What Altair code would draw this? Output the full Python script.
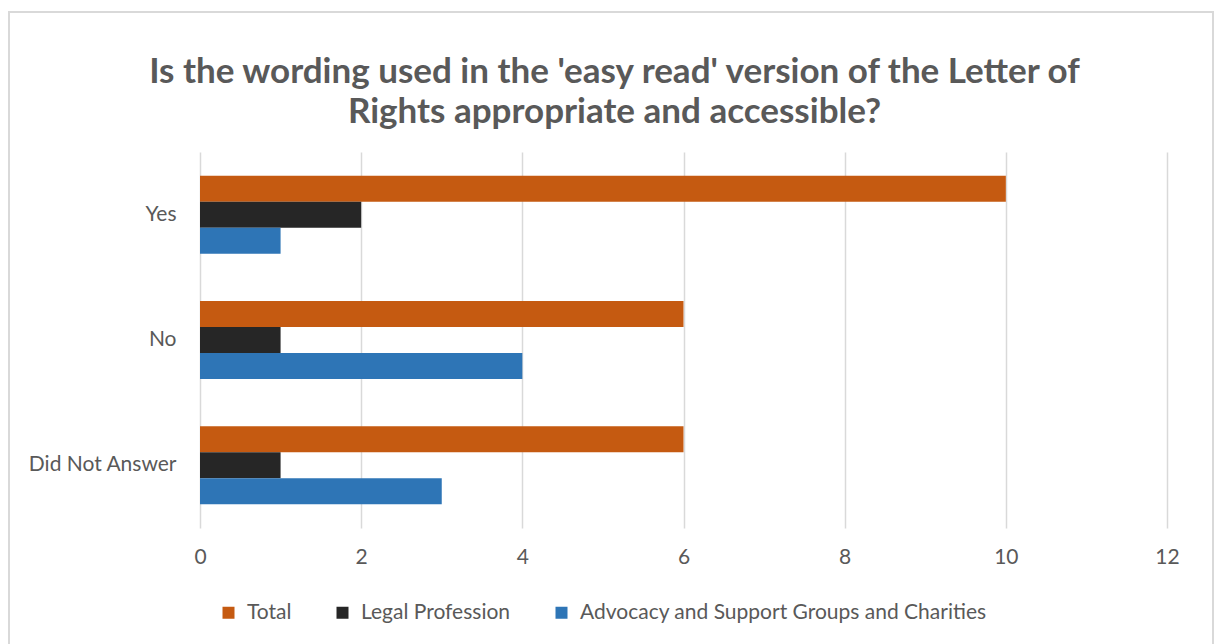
import altair as alt
import pandas as pd

categories = ["Yes", "No", "Did Not Answer"]
series = ["Total", "Legal Profession", "Advocacy and Support Groups and Charities"]
total = [10, 6, 6]
legal = [2, 1, 1]
advocacy = [1, 4, 3]
colors = ["#C55A11", "#262626", "#2E75B6"]
x_ticks = [0, 2, 4, 6, 8, 10, 12]

rows = []
for i, c in enumerate(categories):
    for s, vals in zip(series, [total, legal, advocacy]):
        rows.append({"category": c, "series": s, "value": vals[i]})
df = pd.DataFrame(rows)

FONT = "Lato"
GREY = "#595959"
LBL = 21

bars = alt.Chart(df).mark_bar().encode(
    y=alt.Y("category:N", sort=categories,
            scale=alt.Scale(paddingInner=0.378, paddingOuter=0.189),
            axis=alt.Axis(title=None, labelFontSize=LBL, labelColor=GREY, labelFont=FONT,
                          labelFontWeight="normal", labelPadding=24, ticks=False,
                          domain=False, grid=False)),
    yOffset=alt.YOffset("series:N", sort=series),
    x=alt.X("value:Q", scale=alt.Scale(domain=[0, 12], nice=False),
            axis=alt.Axis(title=None, values=x_ticks, labelFontSize=LBL, labelColor=GREY,
                          labelFont=FONT, labelPadding=18, ticks=False, domain=False,
                          labelFlush=False, gridColor="#D9D9D9", gridWidth=1.5)),
    color=alt.Color("series:N", sort=series,
                    scale=alt.Scale(domain=series, range=colors),
                    legend=alt.Legend(title=None, orient="none", direction="horizontal",
                                      legendX=18, legendY=450, symbolType="square",
                                      symbolSize=144, symbolStrokeWidth=0,
                                      labelFontSize=LBL, labelColor=GREY, labelFont=FONT,
                                      labelLimit=1000, columnPadding=40, labelOffset=8)),
)

border = alt.Chart(pd.DataFrame({"a": [0]})).mark_rect(
    filled=False, stroke="#D9D9D9", strokeWidth=2
).encode(
    x=alt.value(-191), x2=alt.value(1013), y=alt.value(-140), y2=alt.value(500)
)

chart = alt.layer(border, bars).properties(
    width=967, height=376,
    title=alt.TitleParams(
        text=["Is the wording used in the 'easy read' version of the Letter of",
              "Rights appropriate and accessible?"],
        anchor="middle", frame="group", dx=-69, dy=140, offset=21,
        font=FONT, fontSize=35, fontWeight="bold", color=GREY, lineHeight=40,
    ),
    autosize=alt.AutoSizeParams(type="none"),
    padding={"left": 200, "top": 152, "right": 47, "bottom": 116},
).configure(background="white").configure_view(stroke=None)

chart.save("out.html", embed_options={"renderer": "svg", "actions": False})
